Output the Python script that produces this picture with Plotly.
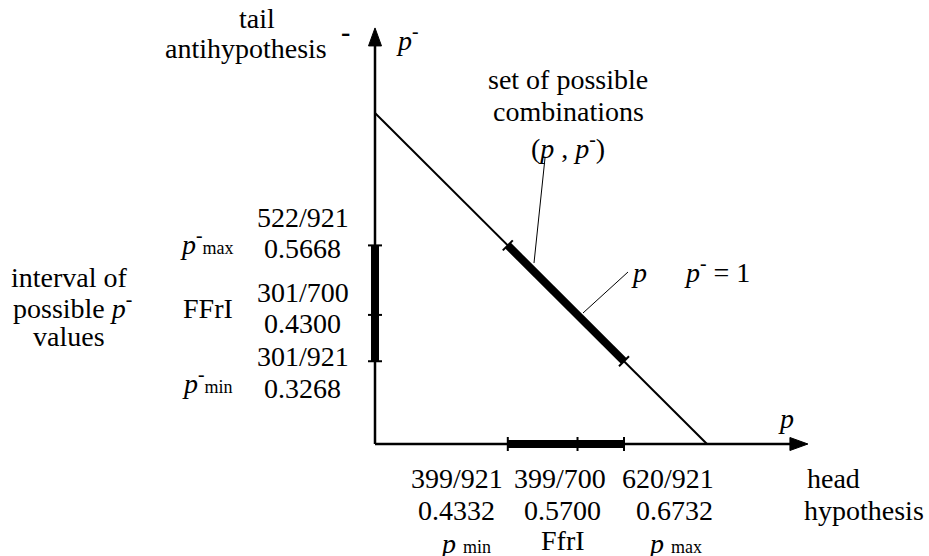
import plotly.graph_objects as go

# ---- data (schematic diagram coordinates) ----
# head hypothesis axis (p): drawn positions of pmin, FfrI, pmax
p_marks = [0.40, 0.61, 0.75]
p_labels_frac = ["399/921", "399/700", "620/921"]
p_labels_dec = ["0.4332", "0.5700", "0.6732"]
# tail antihypothesis axis (p-): drawn positions of p-min, FFrI, p-max
q_marks = [0.25, 0.39, 0.60]
q_labels_frac = ["301/921", "301/700", "522/921"]
q_labels_dec = ["0.3268", "0.4300", "0.5668"]
# line p + p- = 1
line_x = [0.0, 1.0]
line_y = [1.0, 0.0]
x_axis_end = 1.304
y_axis_end = 1.257

# ---- pixel mapping (layout) ----
W, H = 929, 556
OX, OY = 375, 444
SX, SY = 332, 331
xr = [-OX / SX, (W - OX) / SX]
yr = [-(H - OY) / SY, OY / SY]

def X(px):
    return (px - OX) / SX

def Y(py):
    return (OY - py) / SY

def dx(n):
    return n / SX

def dy(n):
    return n / SY

FONT = "Liberation Serif"
FS = 28
BLACK = "black"

fig = go.Figure()

def seg(xs, ys, w):
    fig.add_trace(go.Scatter(x=xs, y=ys, mode="lines", line=dict(color=BLACK, width=w),
                             hoverinfo="skip", showlegend=False))

# axes
seg([0, x_axis_end - dx(16)], [0, 0], 2.5)
seg([0, 0], [0, y_axis_end - dy(16)], 2.5)
# diagonal
seg(line_x, line_y, 2)
# thick intervals
seg([p_marks[0], p_marks[-1]], [0, 0], 8)
seg([0, 0], [q_marks[0], q_marks[-1]], 8)
seg([p_marks[0], p_marks[-1]], [1 - p_marks[0], 1 - p_marks[-1]], 8)

# ticks on axes
for v in p_marks:
    seg([v, v], [dy(-7), dy(7)], 2)
for v in q_marks:
    seg([dx(-7), dx(7)], [v, v], 2)
# ticks at ends of diagonal thick segment
for v in [p_marks[0], p_marks[-1]]:
    seg([v - dx(5), v + dx(5)], [1 - v - dy(5), 1 - v + dy(5)], 2)

# arrowheads
shapes = []
xt = x_axis_end
shapes.append(dict(type="path", xref="x", yref="y",
                   path=f"M {xt} 0 L {xt - dx(18)} {dy(6.5)} L {xt - dx(18)} {-dy(6.5)} Z",
                   fillcolor=BLACK, line=dict(color=BLACK, width=1)))
yt = y_axis_end
shapes.append(dict(type="path", xref="x", yref="y",
                   path=f"M 0 {yt} L {-dx(6.5)} {yt - dy(18)} L {dx(6.5)} {yt - dy(18)} Z",
                   fillcolor=BLACK, line=dict(color=BLACK, width=1)))

# leader lines
seg([X(545), X(534)], [Y(158), Y(263)], 1)
seg([X(628), X(583)], [Y(272), Y(313)], 1)

annotations = []

def ann(text, px, py, size=FS, xanchor="center"):
    annotations.append(dict(text=text, x=X(px), y=Y(py), xref="x", yref="y",
                            showarrow=False, xanchor=xanchor, yanchor="middle",
                            font=dict(family=FONT, size=size, color=BLACK)))

SUB = "<span style='font-size:18px'>{}</span>"
PM = "<i>p</i><sup><b>-</b></sup>"

# top-left
ann("tail", 257, 18)
ann("antihypothesis", 246, 48)
ann("<b>-</b>", 345, 31)
ann(PM, 407, 38)

# set of combinations
ann("set of possible", 568, 79)
ann("combinations", 568, 111)
ann("(<i>p</i> , " + PM + ")", 568, 146)
ann("<i>p</i>", 639, 272)
ann(PM + " = 1", 717, 270)
ann("<i>p</i>", 786, 418)

# left side
ann("interval of", 69, 277)
ann("possible " + PM, 72, 306)
ann("values", 69, 336)
ann(PM + SUB.format("max"), 207, 242)
ann("FFrI", 208, 308)
ann(PM + SUB.format("min"), 207, 381)
q_y_frac = [356, 292, 217]
q_y_dec = [388, 323, 248]
for f, d, yf, yd in zip(q_labels_frac, q_labels_dec, q_y_frac, q_y_dec):
    ann(f, 303, yf)
    ann(d, 302, yd)

# bottom
p_x_frac = [457, 560, 668]
p_x_dec = [456, 562, 674]
for f, d, xf, xd in zip(p_labels_frac, p_labels_dec, p_x_frac, p_x_dec):
    ann(f, xf, 478)
    ann(d, xd, 510)
ann("<i>p</i> " + SUB.format("min"), 465, 543)
ann("FfrI", 563, 540)
ann("<i>p</i> " + SUB.format("max"), 675, 543)
ann("head", 833, 478)
ann("hypothesis", 864, 510)

fig.update_layout(
    width=W, height=H, autosize=False,
    margin=dict(l=0, r=0, t=0, b=0),
    paper_bgcolor="white", plot_bgcolor="white",
    xaxis=dict(range=xr, visible=False, fixedrange=True),
    yaxis=dict(range=yr, visible=False, fixedrange=True),
    shapes=shapes, annotations=annotations,
    showlegend=False,
)
fig.write_html("out.html", config={"displayModeBar": False},
               post_script="document.body.style.margin='0';document.body.style.overflow='hidden';")
